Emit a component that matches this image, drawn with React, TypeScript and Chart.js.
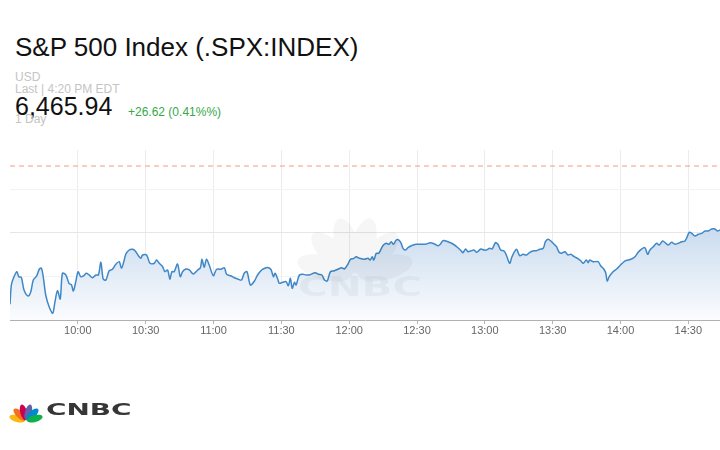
import React, { useEffect, useRef } from "react";
import { Chart, registerables } from "chart.js";

Chart.register(...registerables);

// minutes after 9:30 open
const times = [
  0.0, 0.6, 1.5, 3.0, 3.9, 5.0, 6.2, 8.0, 9.2, 10.3, 11.8, 13.0, 13.9, 14.8, 15.8, 17.3, 18.9, 19.9, 21.0, 22.2,
  23.2, 24.7, 26.1, 27.2, 28.0, 29.1, 30.1, 31.3, 32.5, 33.7, 35.0, 36.5, 38.0, 39.1, 40.2, 41.2, 42.4, 43.9, 45.3, 46.8,
  48.3, 49.3, 50.3, 51.2, 52.7, 54.2, 55.4, 56.8, 57.9, 58.6, 60.4, 61.9, 63.8, 64.8, 66.0, 67.5, 68.5, 69.7, 70.7, 71.6,
  72.6, 74.1, 75.3, 76.3, 77.8, 79.3, 81.1, 83.0, 84.2, 84.9, 85.9, 86.9, 88.1, 89.9, 91.4, 93.3, 94.8, 95.8, 97.8, 99.2,
  101.0, 102.4, 103.6, 104.8, 106.3, 108.1, 109.5, 111.3, 113.3, 114.4, 115.5, 116.5, 117.2, 118.4, 119.1, 120.6, 122.1, 123.1, 124.0, 124.8,
  125.8, 126.5, 128.0, 129.5, 131.0, 132.4, 135.0, 136.4, 137.9, 139.1, 140.3, 141.7, 143.5, 145.0, 146.7, 147.9, 149.4, 150.6, 152.1, 153.1,
  154.6, 156.8, 158.3, 159.3, 160.2, 160.9, 162.0, 163.1, 164.9, 166.4, 167.6, 168.6, 169.6, 170.8, 172.0, 173.0, 173.8, 174.9, 176.0, 177.5,
  179.7, 181.9, 184.1, 185.9, 187.8, 189.3, 190.3, 191.5, 193.7, 195.9, 198.1, 199.6, 200.3, 201.5, 202.5, 203.7, 205.2, 206.4, 208.2, 209.6,
  210.7, 212.2, 213.2, 214.7, 215.8, 217.0, 218.5, 219.5, 221.0, 222.0, 224.0, 225.4, 226.9, 228.4, 229.9, 231.3, 232.8, 234.3, 235.8, 236.8,
  238.0, 239.2, 240.6, 241.7, 242.7, 243.9, 245.4, 246.8, 248.0, 249.5, 251.0, 252.5, 253.5, 254.9, 255.7, 256.4, 257.9, 260.1, 261.2, 262.6,
  263.5, 264.1, 265.0, 266.5, 268.3, 270.0, 271.9, 273.4, 274.9, 276.4, 277.8, 279.3, 280.8, 282.0, 283.0, 284.5, 286.0, 287.1, 288.6, 290.1,
  291.1, 292.6, 294.1, 295.5, 297.1, 298.5, 299.5, 300.4, 301.5, 302.9, 304.4, 305.9, 307.4, 308.8, 310.3, 311.8, 312.8, 314.0,
];

const prices = [
  6403.61, 6408.05, 6409.59, 6411.10, 6409.95, 6409.82, 6406.90, 6405.52, 6406.51, 6409.20, 6410.12, 6411.72, 6411.89, 6409.59, 6405.75, 6403.06, 6401.54, 6404.21, 6406.74, 6404.83,
  6410.74, 6410.35, 6408.44, 6408.05, 6406.67, 6408.81, 6411.10, 6409.95, 6410.12, 6410.74, 6410.35, 6409.72, 6410.35, 6410.35, 6413.27, 6409.43, 6409.20, 6411.33, 6411.66, 6412.81,
  6413.40, 6411.89, 6413.33, 6415.10, 6416.09, 6416.25, 6415.86, 6414.78, 6414.18, 6414.94, 6414.94, 6413.04, 6413.04, 6413.79, 6413.04, 6412.25, 6411.10, 6411.50, 6409.43, 6411.10,
  6411.10, 6412.87, 6409.95, 6411.10, 6411.72, 6411.50, 6410.58, 6411.50, 6412.02, 6413.96, 6412.12, 6413.96, 6412.64, 6410.18, 6411.66, 6411.66, 6412.02, 6410.51, 6410.12, 6409.72,
  6409.36, 6409.20, 6410.74, 6411.10, 6408.05, 6408.97, 6410.35, 6411.50, 6412.02, 6412.02, 6411.50, 6409.95, 6410.74, 6409.43, 6408.44, 6408.67, 6408.81, 6407.89, 6409.59, 6407.29,
  6408.67, 6408.05, 6410.35, 6410.51, 6410.35, 6410.35, 6410.87, 6410.51, 6410.35, 6409.20, 6408.97, 6411.10, 6411.33, 6411.66, 6412.02, 6411.72, 6412.81, 6413.96, 6414.18, 6414.55,
  6414.18, 6413.96, 6414.18, 6413.79, 6414.55, 6413.79, 6415.33, 6415.33, 6417.08, 6417.63, 6417.40, 6418.00, 6417.40, 6418.39, 6418.39, 6417.63, 6416.48, 6416.09, 6416.62, 6417.08,
  6417.40, 6417.40, 6417.47, 6417.77, 6417.47, 6417.08, 6417.40, 6418.23, 6418.00, 6417.47, 6416.62, 6415.86, 6415.47, 6416.32, 6415.70, 6415.86, 6416.09, 6415.56, 6416.32, 6416.09,
  6416.09, 6416.48, 6416.32, 6417.77, 6417.40, 6416.09, 6415.86, 6414.94, 6413.04, 6414.55, 6416.25, 6414.78, 6415.10, 6414.94, 6415.56, 6415.86, 6415.93, 6416.25, 6416.48, 6418.00,
  6418.55, 6418.16, 6417.40, 6416.85, 6415.70, 6415.33, 6415.70, 6414.94, 6415.10, 6414.55, 6414.18, 6413.56, 6413.04, 6413.79, 6413.17, 6413.79, 6413.40, 6413.40, 6412.48, 6411.72,
  6410.74, 6408.97, 6409.95, 6410.97, 6411.72, 6412.64, 6413.56, 6413.79, 6414.02, 6414.55, 6415.56, 6416.32, 6416.62, 6415.10, 6416.09, 6416.85, 6417.63, 6417.24, 6418.16, 6417.63,
  6417.24, 6417.86, 6417.40, 6417.63, 6418.00, 6418.16, 6419.15, 6420.16, 6419.93, 6419.31, 6419.70, 6419.93, 6420.46, 6420.46, 6420.92, 6420.92, 6420.46, 6420.69,
];

const tickMinutes = [30, 60, 90, 120, 150, 180, 210, 240, 270, 300];
const tickLabels = ["10:00", "10:30", "11:00", "11:30", "12:00", "12:30", "13:00", "13:30", "14:00", "14:30"];
const gridLevels = [6410, 6420, 6430];
const referenceLevel = 6435.4;
const xMin = 0;
const xMax = 314;
const yMin = 6400;
const yMax = 6439.08;

const FONT = "'Liberation Sans', Arial, Helvetica, sans-serif";

function Peacock({ x, y, scale, colors, opacity }: { x: number; y: number; scale: number; colors: string[]; opacity: number }) {
  const angles = [165, 135, 105, 75, 45, 15];
  return (
    <svg
      style={{ position: "absolute", left: x - 20 * scale, top: y - 20 * scale, opacity, pointerEvents: "none" }}
      width={40 * scale}
      height={22 * scale}
      viewBox="-20 -20 40 22"
    >
      {angles.map((a, i) => {
        const r = (a * Math.PI) / 180;
        const cx = Math.cos(r) * 9.5;
        const cy = -Math.sin(r) * 9.5;
        return (
          <ellipse
            key={i}
            cx={cx}
            cy={cy}
            rx={8.5}
            ry={3.6}
            fill={colors[i]}
            transform={`rotate(${-a} ${cx} ${cy})`}
          />
        );
      })}
    </svg>
  );
}

export default function App() {
  const canvasRef = useRef<HTMLCanvasElement | null>(null);

  useEffect(() => {
    if (!canvasRef.current) return;
    const chart = new Chart(canvasRef.current, {
      type: "line",
      data: {
        datasets: [
          {
            data: times.map((t, i) => ({ x: t, y: prices[i] })),
            borderColor: "#3f87c6",
            borderWidth: 1.5,
            pointRadius: 0,
            tension: 0.3,
            fill: "start",
            backgroundColor: (ctx: any) => {
              const { chart } = ctx;
              const area = chart.chartArea;
              if (!area) return "rgba(200,220,240,0.6)";
              const g = chart.ctx.createLinearGradient(0, area.top, 0, area.bottom);
              g.addColorStop(0, "rgb(160,192,226)");
              g.addColorStop(1, "rgb(251,252,254)");
              return g;
            },
          },
          {
            data: [
              { x: xMin, y: referenceLevel },
              { x: xMax, y: referenceLevel },
            ],
            borderColor: "#f29a86",
            borderWidth: 1,
            borderDash: [5, 4],
            pointRadius: 0,
            fill: false,
          },
        ],
      },
      options: {
        animation: false,
        responsive: false,
        devicePixelRatio: 1,
        layout: { padding: { left: 10, right: 0, top: 150, bottom: 110 } },
        plugins: { legend: { display: false }, tooltip: { enabled: false } },
        scales: {
          x: {
            type: "linear",
            min: xMin,
            max: xMax,
            afterBuildTicks: (scale: any) => {
              scale.ticks = tickMinutes.map((v) => ({ value: v }));
            },
            afterFit: (scale: any) => {
              scale.height = 20;
            },
            grid: {
              color: "#ececec",
              tickColor: "#b5b5b5",
              tickLength: 4,
              drawOnChartArea: true,
            },
            border: { display: true, color: "#b0b0b0", width: 1 },
            ticks: {
              autoSkip: false,
              maxRotation: 0,
              padding: 0,
              color: "#666",
              font: { family: FONT, size: 11 },
              callback: (value: any) => {
                const i = tickMinutes.indexOf(Number(value));
                return i >= 0 ? tickLabels[i] : "";
              },
            },
          },
          y: {
            type: "linear",
            min: yMin,
            max: yMax,
            afterBuildTicks: (scale: any) => {
              scale.ticks = gridLevels.map((v) => ({ value: v }));
            },
            afterFit: (scale: any) => {
              scale.width = 0;
            },
            grid: {
              drawTicks: false,
              color: (ctx: any) => (ctx.tick && ctx.tick.value === 6420 ? "#e6e6e6" : "#f3f3f3"),
            },
            border: { display: false },
            ticks: { display: false },
          },
        },
      },
    } as any);
    return () => chart.destroy();
  }, []);

  const grey = "#c4c4c4";
  return (
    <div style={{ position: "absolute", left: 0, top: 0, width: 720, height: 450, background: "#fff", overflow: "hidden", fontFamily: FONT }}>
      <div style={{ position: "absolute", left: 15, top: 33.5, fontSize: 26, lineHeight: "26px", color: "#111", whiteSpace: "nowrap" }}>
        S&amp;P 500 Index (.SPX:INDEX)
      </div>
      <div style={{ position: "absolute", left: 15, top: 70.7, fontSize: 12, lineHeight: "12px", color: grey }}>USD</div>
      <div style={{ position: "absolute", left: 15, top: 83.4, fontSize: 12, lineHeight: "12px", color: grey, whiteSpace: "nowrap" }}>
        Last | 4:20 PM EDT
      </div>
      <div style={{ position: "absolute", left: 15, top: 93.5, fontSize: 25, lineHeight: "25px", color: "#111" }}>6,465.94</div>
      <div style={{ position: "absolute", left: 128, top: 105.7, fontSize: 12, lineHeight: "12px", color: "#34a84a", whiteSpace: "nowrap" }}>
        +26.62 (0.41%%)
      </div>
      <div style={{ position: "absolute", left: 15, top: 113.4, fontSize: 12, lineHeight: "12px", color: grey }}>1 Day</div>

      <canvas ref={canvasRef} width={720} height={450} style={{ position: "absolute", left: 0, top: 0, width: 720, height: 450 }} />

      {/* watermark */}
      <Peacock x={355} y={276} scale={3.3} colors={["#000", "#000", "#000", "#000", "#000", "#000"]} opacity={0.035} />
      <div
        style={{
          position: "absolute",
          left: 298,
          top: 273,
          fontFamily: "'DejaVu Sans', sans-serif",
          fontWeight: 700,
          fontSize: 27,
          lineHeight: "27px",
          color: "rgba(0,0,0,0.04)",
          transform: "scaleX(1.5)",
          transformOrigin: "left top",
          whiteSpace: "nowrap",
          pointerEvents: "none",
        }}
      >
        CNBC
      </div>

      {/* footer logo */}
      <Peacock x={26} y={421} scale={0.95} colors={["#fcb711", "#f37021", "#cc004c", "#6460aa", "#0089d0", "#0db14b"]} opacity={1} />
      <div
        style={{
          position: "absolute",
          left: 46,
          top: 403,
          fontFamily: "'DejaVu Sans', sans-serif",
          fontWeight: 700,
          fontSize: 15.5,
          lineHeight: "15.5px",
          color: "#363636",
          transform: "scaleX(1.8)",
          transformOrigin: "left top",
          whiteSpace: "nowrap",
        }}
      >
        CNBC
      </div>
    </div>
  );
}
